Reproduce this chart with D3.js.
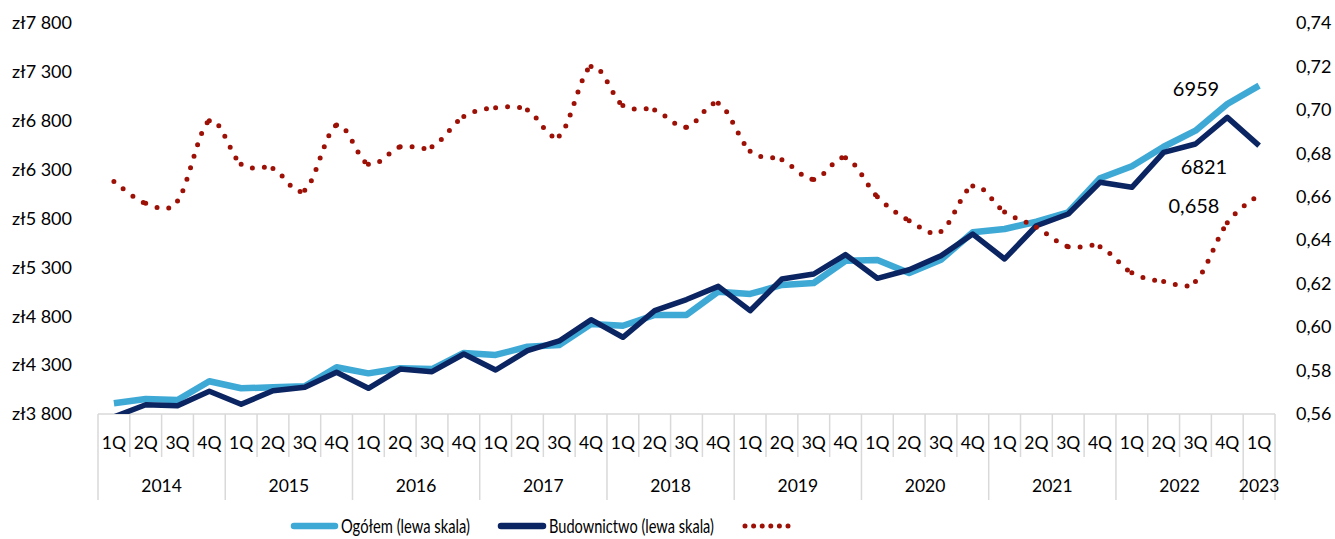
<!DOCTYPE html>
<meta charset="utf-8">
<title>Wynagrodzenia</title>
<style>
  body { margin: 0; background: #fff; }
  text { font-family: Lato, "Open Sans", sans-serif; fill: #000; }
</style>
<body>
<script src="https://cdn.jsdelivr.net/npm/d3@7"></script>
<script>

var width = 1335,
    height = 539;

// quarters 2014 1Q .. 2023 1Q
var years = [2014, 2015, 2016, 2017, 2018, 2019, 2020, 2021, 2022, 2023];
var quarters = ["1Q", "2Q", "3Q", "4Q"];

var ogolem = [3909, 3953, 3943, 4135, 4063, 4073, 4083, 4278, 4216, 4268,
              4260, 4424, 4404, 4488, 4506, 4721, 4703, 4813, 4813, 5051,
              5028, 5120, 5140, 5368, 5375, 5242, 5378, 5659, 5693, 5767,
              5863, 6211, 6334, 6534, 6698, 6971, 7159];

var budownictwo = [3770, 3895, 3885, 4032, 3899, 4038, 4073, 4227, 4063, 4260,
                   4233, 4414, 4250, 4448, 4547, 4765, 4585, 4857, 4971, 5106,
                   4857, 5181, 5232, 5430, 5188, 5276, 5419, 5641, 5386, 5726,
                   5846, 6170, 6119, 6477, 6562, 6835, 6545];

// prawa skala
var wskaznik = [0.667, 0.657, 0.658, 0.695, 0.675, 0.673, 0.663, 0.693, 0.675, 0.683,
                0.683, 0.697, 0.701, 0.700, 0.688, 0.720, 0.702, 0.700, 0.692, 0.703,
                0.681, 0.677, 0.668, 0.678, 0.660, 0.649, 0.644, 0.665, 0.653, 0.646,
                0.637, 0.637, 0.625, 0.621, 0.621, 0.648, 0.661];

var leftTicks = [3800, 4300, 4800, 5300, 5800, 6300, 6800, 7300, 7800];
var rightTicks = [0.56, 0.58, 0.60, 0.62, 0.64, 0.66, 0.68, 0.70, 0.72, 0.74];

var endLabels = [
  {text: "6959", x: 1196, y: 89},
  {text: "6821", x: 1204, y: 167},
  {text: "0,658", x: 1194, y: 206}
];

var categories = [];
years.forEach(function(y) {
  quarters.forEach(function(q) {
    if (categories.length < ogolem.length) categories.push({year: y, q: q});
  });
});

var plotTop = 23, plotBottom = 414, plotLeft = 98, plotRight = 1275;

var x = d3.scaleBand()
    .domain(d3.range(categories.length))
    .range([plotLeft, plotRight]);

var yL = d3.scaleLinear().domain([3800, 7800]).range([plotBottom, plotTop]);
var yR = d3.scaleLinear().domain([0.56, 0.74]).range([plotBottom, plotTop]);

var cx = function(i) { return x(i) + x.bandwidth() / 2; };

var svg = d3.select("body").append("svg")
    .attr("width", width)
    .attr("height", height);

svg.append("defs").append("clipPath").attr("id", "plot")
  .append("rect")
    .attr("x", plotLeft).attr("y", 0)
    .attr("width", plotRight - plotLeft).attr("height", plotBottom);

// left axis
var plLocale = d3.formatLocale({decimal: ",", thousands: " ", grouping: [3], currency: ["zł", ""]});
var fmtL = plLocale.format("$,");
var fmtR = plLocale.format(".2f");

svg.append("g")
    .attr("transform", "translate(72,0)")
    .call(d3.axisLeft(yL).tickValues(leftTicks).tickFormat(fmtL).tickSize(0).tickPadding(0))
    .call(function(g) { g.select(".domain").remove(); })
    .selectAll("text")
    .style("font-family", "Lato").style("font-size", "18px").attr("fill", "#000");

svg.append("g")
    .attr("transform", "translate(1296,0)")
    .call(d3.axisRight(yR).tickValues(rightTicks).tickFormat(fmtR).tickSize(0).tickPadding(0))
    .call(function(g) { g.select(".domain").remove(); })
    .selectAll("text")
    .style("font-family", "Lato").style("font-size", "18px").attr("fill", "#000");

// category axis box
var axisG = svg.append("g").attr("stroke", "#d9d9d9").attr("stroke-width", 1.5);
axisG.append("line")
    .attr("x1", plotLeft).attr("x2", plotRight)
    .attr("y1", plotBottom).attr("y2", plotBottom);

d3.range(categories.length + 1).forEach(function(i) {
  var xx = i < categories.length ? x(i) : plotRight;
  var full = (i % 4 === 0) || i === categories.length;
  axisG.append("line")
      .attr("x1", xx).attr("x2", xx)
      .attr("y1", plotBottom).attr("y2", full ? 500 : 457);
});

svg.append("g").selectAll("text")
    .data(categories)
  .enter().append("text")
    .attr("x", function(d, i) { return cx(i); })
    .attr("y", 443)
    .attr("dy", "0.35em")
    .attr("text-anchor", "middle")
    .style("font-size", "17.5px")
    .text(function(d) { return d.q; });

svg.append("g").selectAll("text")
    .data(years)
  .enter().append("text")
    .attr("x", function(y, k) {
      var i0 = k * 4, i1 = Math.min(k * 4 + 3, categories.length - 1);
      return (x(i0) + x(i1) + x.bandwidth()) / 2;
    })
    .attr("y", 486)
    .attr("dy", "0.35em")
    .attr("text-anchor", "middle")
    .style("font-size", "17.5px")
    .text(function(y) { return y; });

// lines
var lineL = d3.line()
    .x(function(d, i) { return cx(i); })
    .y(function(d) { return yL(d); });

var lines = svg.append("g").attr("clip-path", "url(#plot)");

lines.append("path")
    .datum(ogolem)
    .attr("d", lineL)
    .attr("fill", "none")
    .attr("stroke", "#3fa9d6")
    .attr("stroke-width", 6.5)
    .attr("stroke-linejoin", "round");

lines.append("path")
    .datum(budownictwo)
    .attr("d", lineL)
    .attr("fill", "none")
    .attr("stroke", "#0b2462")
    .attr("stroke-width", 5.5)
    .attr("stroke-linejoin", "round");

// smoothed dotted series, one bezier per segment so the dot pattern restarts at each point
var pts = wskaznik.map(function(v, i) { return [cx(i), yR(v)]; });
var segs = [];
for (var i = 0; i < pts.length - 1; i++) {
  var p0 = pts[Math.max(i - 1, 0)], p1 = pts[i], p2 = pts[i + 1], p3 = pts[Math.min(i + 2, pts.length - 1)];
  var c1 = [p1[0] + (p2[0] - p0[0]) / 6, p1[1] + (p2[1] - p0[1]) / 6];
  var c2 = [p2[0] - (p3[0] - p1[0]) / 6, p2[1] - (p3[1] - p1[1]) / 6];
  segs.push("M" + p1 + "C" + c1 + " " + c2 + " " + p2);
}

svg.append("g").selectAll("path")
    .data(segs)
  .enter().append("path")
    .attr("d", function(d) { return d; })
    .attr("fill", "none")
    .attr("stroke", "#9c1006")
    .attr("stroke-width", 5)
    .attr("stroke-linecap", "round")
    .attr("stroke-dasharray", "0 12");

// end labels
svg.append("g").selectAll("text")
    .data(endLabels)
  .enter().append("text")
    .attr("x", function(d) { return d.x; })
    .attr("y", function(d) { return d.y; })
    .attr("dy", "0.35em")
    .attr("text-anchor", "middle")
    .style("font-size", "20px")
    .text(function(d) { return d.text; });

// legend
var legend = svg.append("g");
legend.append("line")
    .attr("x1", 294).attr("x2", 335).attr("y1", 526).attr("y2", 526)
    .attr("stroke", "#3fa9d6").attr("stroke-width", 6.5).attr("stroke-linecap", "round");
legend.append("text")
    .attr("x", 341).attr("y", 526).attr("dy", "0.35em")
    .attr("textLength", 129).attr("lengthAdjust", "spacingAndGlyphs")
    .style("font-size", "20px")
    .text("Ogółem (lewa skala)");

legend.append("line")
    .attr("x1", 501).attr("x2", 543).attr("y1", 526).attr("y2", 526)
    .attr("stroke", "#0b2462").attr("stroke-width", 6.5).attr("stroke-linecap", "round");
legend.append("text")
    .attr("x", 549).attr("y", 526).attr("dy", "0.35em")
    .attr("textLength", 165).attr("lengthAdjust", "spacingAndGlyphs")
    .style("font-size", "20px")
    .text("Budownictwo (lewa skala)");

legend.append("line")
    .attr("x1", 745).attr("x2", 789).attr("y1", 526).attr("y2", 526)
    .attr("stroke", "#9c1006").attr("stroke-width", 5)
    .attr("stroke-linecap", "round").attr("stroke-dasharray", "0 8.6");

</script>
